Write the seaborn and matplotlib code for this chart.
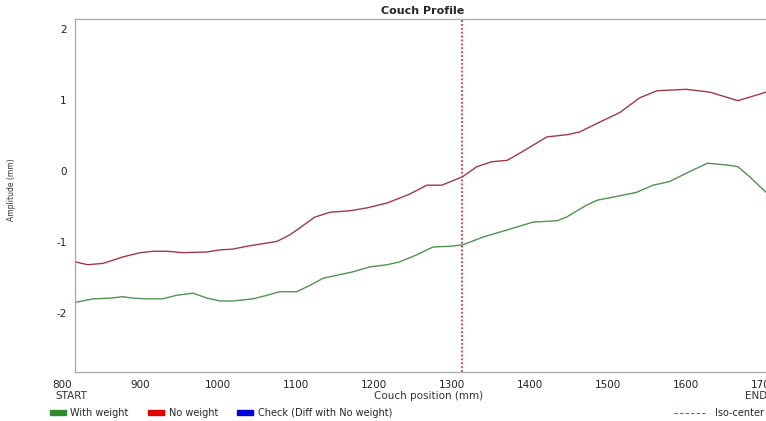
import numpy as np
import pandas as pd
import matplotlib
matplotlib.use('Agg')
import matplotlib.pyplot as plt
from matplotlib.patches import Patch
from matplotlib.lines import Line2D
from matplotlib.ticker import MultipleLocator
import seaborn as sns

# couch profile readings (couch position in mm, amplitude in mm)
pos_no_weight = [817, 833, 853, 878, 900, 917, 935, 955, 986, 1003, 1019, 1037, 1054, 1076,
                 1092, 1109, 1124, 1144, 1169, 1191, 1217, 1245, 1268, 1287, 1314, 1332, 1351,
                 1371, 1387, 1422, 1447, 1464, 1490, 1515, 1541, 1563, 1601, 1631, 1667, 1703]
amp_no_weight = [-1.28, -1.32, -1.30, -1.21, -1.15, -1.13, -1.13, -1.15, -1.14, -1.11, -1.10,
                 -1.06, -1.03, -0.99, -0.90, -0.77, -0.65, -0.58, -0.56, -0.52, -0.45, -0.33,
                 -0.20, -0.20, -0.08, 0.06, 0.13, 0.15, 0.25, 0.48, 0.51, 0.55, 0.69, 0.82,
                 1.03, 1.13, 1.15, 1.11, 0.99, 1.11]

pos_with_weight = [817, 840, 862, 878, 891, 909, 929, 947, 968, 986, 1003, 1019, 1045, 1063,
                   1079, 1101, 1118, 1135, 1156, 1173, 1195, 1217, 1233, 1255, 1276, 1297, 1314,
                   1340, 1371, 1404, 1435, 1447, 1473, 1487, 1506, 1537, 1558, 1579, 1601, 1628,
                   1656, 1667, 1682, 1703]
amp_with_weight = [-1.85, -1.80, -1.79, -1.77, -1.79, -1.80, -1.80, -1.75, -1.72, -1.79, -1.83,
                   -1.83, -1.80, -1.75, -1.70, -1.70, -1.61, -1.51, -1.46, -1.42, -1.35, -1.32,
                   -1.28, -1.18, -1.07, -1.06, -1.04, -0.93, -0.83, -0.72, -0.70, -0.65, -0.48,
                   -0.41, -0.37, -0.30, -0.20, -0.15, -0.03, 0.11, 0.08, 0.06, -0.08, -0.30]

iso_center = 1313
x_ticks = [800, 900, 1000, 1100, 1200, 1300, 1400, 1500, 1600, 1700]
y_ticks = [-2, -1, 0, 1, 2]

df = pd.concat([
    pd.DataFrame({'pos': pos_with_weight, 'amp': amp_with_weight, 'series': 'With weight'}),
    pd.DataFrame({'pos': pos_no_weight, 'amp': amp_no_weight, 'series': 'No weight'}),
], ignore_index=True)

sns.set_style('white')
plt.rcParams['font.family'] = ['DejaVu Sans']
plt.rcParams['axes.unicode_minus'] = False   # plain hyphen like the original

fig = plt.figure(figsize=(7.66, 4.21), dpi=100)
ax = fig.add_axes([62 / 766, 1 - 372 / 421, 704 / 766, 353 / 421])

sns.lineplot(data=df, x='pos', y='amp', hue='series',
             palette={'With weight': '#4f9450', 'No weight': '#a33844'},
             linewidth=1.0, legend=False, ax=ax, estimator=None, sort=False)
ax.axvline(iso_center, color='#c4505a', linestyle=(0, (1, 1)), linewidth=1.4)

x_left = pos_no_weight[0]
ax.set_xlim(800, 1703)
ax.set_ylim(-2.83, 2.14)

# box starts at the first reading, 800 label hangs outside
ax.spines['left'].set_position(('data', x_left))
ax.spines['top'].set_bounds(x_left, 1703)
ax.spines['bottom'].set_bounds(x_left, 1703)
ax.spines['right'].set_visible(False)
for sp in ['left', 'top', 'bottom']:
    ax.spines[sp].set_color('#a8a8a8')
    ax.spines[sp].set_linewidth(0.9)

ax.set_xticks(x_ticks)
ax.set_yticks(y_ticks)
ax.xaxis.set_minor_locator(MultipleLocator(10))
ax.yaxis.set_minor_locator(MultipleLocator(0.5))
ax.tick_params(axis='both', which='major', direction='in', length=5, width=0.8,
               color='#8a8a8a', labelsize=7.5, labelcolor='#222222', pad=6)
ax.tick_params(axis='both', which='minor', direction='in', length=2.5, width=0.7,
               color='#8a8a8a')
ax.xaxis.get_major_ticks()[0].tick1line.set_visible(False)
ax.set_xlabel('')
ax.set_ylabel('')

# texts around the plot
fig.text(423 / 766, 1 - 11 / 421, 'Couch Profile', ha='center', va='center',
         fontsize=8, fontweight='bold')
fig.text(12 / 766, 1 - 190 / 421, 'Amplitude (mm)', rotation=90, ha='center',
         va='center', fontsize=5.5, color='#333333')
fig.text(55 / 766, 1 - 396 / 421, 'START', ha='left', va='center', fontsize=7.5,
         color='#333333')
fig.text(429 / 766, 1 - 396 / 421, 'Couch position (mm)', ha='center', va='center',
         fontsize=7.5, color='#333333')
fig.text(745 / 766, 1 - 396 / 421, 'END', ha='left', va='center', fontsize=7.5,
         color='#333333')

handles = [Patch(color='#2e8b2e', label='With weight'),
           Patch(color='#e00000', label='No weight'),
           Patch(color='#0000dd', label='Check (Diff with No weight)')]
fig.legend(handles=handles, loc='center left', bbox_to_anchor=(50 / 766, 1 - 413 / 421),
           ncol=3, frameon=False, fontsize=7, handlelength=1.6, handleheight=0.5,
           columnspacing=2.0, handletextpad=0.5, borderpad=0, borderaxespad=0)
fig.legend(handles=[Line2D([0], [0], color='#c0404c', linestyle=(0, (3, 2)), linewidth=0.8,
                           label='Iso-center')],
           loc='center left', bbox_to_anchor=(674 / 766, 1 - 413 / 421), frameon=False,
           fontsize=7, handlelength=3.2, handletextpad=1.0, borderpad=0, borderaxespad=0)

fig.savefig('out.png', dpi=100)
